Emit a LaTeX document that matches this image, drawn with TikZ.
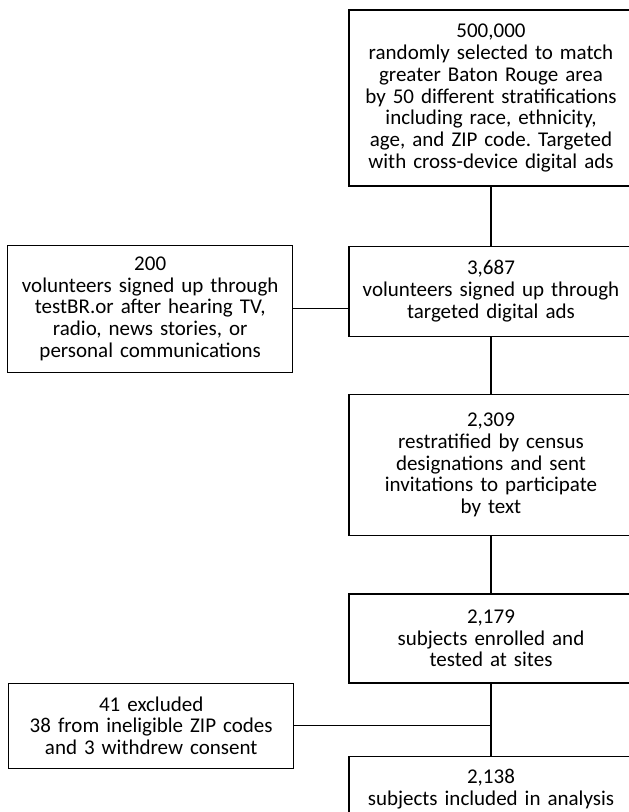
\documentclass[tikz,border=0pt]{standalone}
\usepackage{fontspec}
\setmainfont{Carlito}
\frenchspacing
\usetikzlibrary{positioning}
\tikzset{flow box/.style={rectangle,draw,line width=1.3pt,minimum width=284pt,text width=280pt,align=center,inner sep=0pt,font=\fontsize{21}{21.7}\selectfont} }

\begin{document}
\begin{tikzpicture}[x=1pt,y=1pt]
\useasboundingbox (0,0) rectangle (629,-812);
\clip (0,0) rectangle (629,-812);
\begin{scope}[node distance=57pt]

  \node[flow box, minimum height=176pt] (b500k) at (491,-98) {500,000\\randomly selected to match\\greater Baton Rouge area\\by 50 different stratifications\\including race, ethnicity,\\age, and ZIP code. Targeted\\with cross-device digital ads};
  \node[flow box, minimum height=90pt] (b3687) [below=59pt of b500k] {3,687\\volunteers signed up through\\targeted digital ads};
  \node[flow box, minimum height=141pt] (b2309) [below=of b3687] {2,309\\restratified by census\\designations and sent\\invitations to participate\\by text};
  \node[flow box, minimum height=89pt] (b2179) [below=of b2309] {2,179\\subjects enrolled and\\tested at sites};
  \node[flow box, minimum height=66pt] (b2138) [below=72pt of b2179] {2,138\\subjects included in analysis};

  \node[flow box, minimum height=127pt, minimum width=285pt, anchor=north east] (l200) at ([xshift=-55pt,yshift=1pt]b3687.north west) {200\\volunteers signed up through\\testBR.or after hearing TV,\\radio, news stories, or\\personal communications};
  \node[flow box, minimum height=85pt, minimum width=285pt, anchor=north east] (l41) at ([xshift=-54pt,yshift=1pt]b2179.south west) {41 excluded\\38 from ineligible ZIP codes\\and 3 withdrew consent};

  \path[draw, line width=1.3pt]
    (b500k) -- (b3687)
    (b3687) -- (b2309)
    (b2309) -- (b2179)
    (b2179) -- (b2138)
    (l200) -- (l200 -| b3687.west)
    (l41) -- (l41 -| b2179.south);
\end{scope}
\end{tikzpicture}
\end{document}
